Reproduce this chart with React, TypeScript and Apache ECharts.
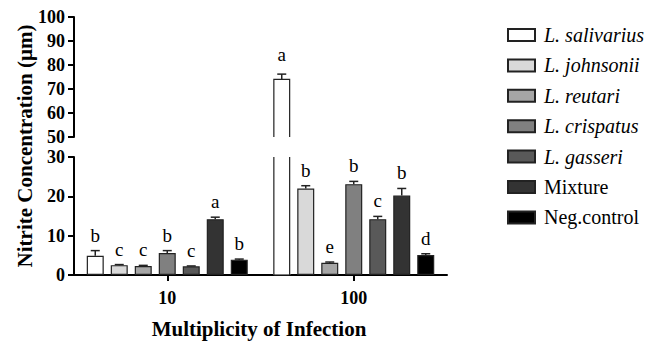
import React, { useEffect, useRef } from "react";
import * as echarts from "echarts";

const categories = ["10", "100"];
const seriesNames = ["L. salivarius", "L. johnsonii", "L. reutari", "L. crispatus", "L. gasseri", "Mixture", "Neg.control"];
const italicNames = ["L. salivarius", "L. johnsonii", "L. reutari", "L. crispatus", "L. gasseri"];
const colors = ["#ffffff", "#d9d9d9", "#a6a6a6", "#808080", "#595959", "#333333", "#000000"];

const means10 = [4.9, 2.5, 2.3, 5.6, 2.2, 14.2, 3.9];
const err10 = [1.3, 0.15, 0.15, 0.6, 0.1, 0.5, 0.15];
const letters10 = ["b", "c", "c", "b", "c", "a", "b"];

const means100 = [74.0, 22.0, 3.1, 23.1, 14.2, 20.2, 5.1];
const err100 = [2.2, 0.7, 0.2, 0.7, 0.7, 1.8, 0.3];
const letters100 = ["a", "b", "e", "b", "c", "b", "d"];

const lowerTicks = [0, 30, 10];
const upperTicks = [50, 100, 10];

const FONT = "Liberation Serif";
const BAR_W = 17;
const BAR_STEP = 24;
const EDGE = "#222";

export default function App() {
  const ref = useRef<HTMLDivElement>(null);
  useEffect(() => {
    if (!ref.current) return;
    const chart = echarts.init(ref.current, undefined, { renderer: "svg" });
    const meansByCat = [means10, means100];
    const errByCat = [err10, err100];
    const lettersByCat = [letters10, letters100];
    const n = seriesNames.length;

    const barX = (center: number, s: number) => center - ((n - 1) * BAR_STEP) / 2 + s * BAR_STEP;

    const pick = (test: (v: number) => boolean) => {
      const out: any[] = [];
      for (let c = 0; c < categories.length; c++) {
        for (let s = 0; s < n; s++) {
          const v = meansByCat[c][s];
          if (test(v)) out.push([c, v, errByCat[c][s], s]);
        }
      }
      return out;
    };

    const renderErr = (gap: number) => (params: any, api: any) => {
      const c = api.value(0);
      const v = api.value(1);
      const e = api.value(2);
      const s = api.value(3);
      const letter = lettersByCat[c][s];
      const base = api.coord([c, v]);
      const top = api.coord([c, v + e]);
      const x = barX(base[0], s);
      const half = 4.5;
      return {
        type: "group",
        children: [
          { type: "line", shape: { x1: x, y1: base[1], x2: x, y2: top[1] }, style: { stroke: EDGE, lineWidth: 1.5 } },
          { type: "line", shape: { x1: x - half, y1: top[1], x2: x + half, y2: top[1] }, style: { stroke: EDGE, lineWidth: 1.5 } },
          {
            type: "text",
            style: {
              text: letter,
              x: x,
              y: top[1] - gap,
              align: "center",
              verticalAlign: "bottom",
              fontFamily: FONT,
              fontSize: 19,
              fill: "#000",
            },
          },
        ],
      };
    };

    // outline of a bar that crosses the axis break: open side at the break
    const renderOutline = (lo: number, hi: number, upper: boolean) => (params: any, api: any) => {
      const c = api.value(0);
      const v = api.value(1);
      const s = api.value(3);
      const b = api.coord([c, lo]);
      const t = api.coord([c, Math.min(v, hi)]);
      const x = barX(b[0], s);
      const xl = x - BAR_W / 2 + 0.6;
      const xr = x + BAR_W / 2 - 0.6;
      const style = { stroke: EDGE, lineWidth: 1.2, fill: null };
      if (upper) {
        return {
          type: "polyline",
          shape: { points: [[xl, b[1]], [xl, t[1]], [xr, t[1]], [xr, b[1]]] },
          style,
        };
      }
      return {
        type: "group",
        children: [
          { type: "line", shape: { x1: xl, y1: b[1], x2: xl, y2: t[1] }, style },
          { type: "line", shape: { x1: xr, y1: b[1], x2: xr, y2: t[1] }, style },
          { type: "line", shape: { x1: xl, y1: b[1], x2: xr, y2: b[1] }, style },
        ],
      };
    };

    const barSeries = (gridIdx: number, lo: number, hi: number) =>
      seriesNames.map((name, s) => ({
        name,
        type: "bar",
        xAxisIndex: gridIdx,
        yAxisIndex: gridIdx,
        barWidth: BAR_W,
        barGap: ((BAR_STEP - BAR_W) / BAR_W) * 100 + "%",
        data: categories.map((_, c) => {
          const v = meansByCat[c][s];
          if (v < lo) return "-";
          const crosses = gridIdx === 0 || v > hi;
          return crosses ? { value: v, itemStyle: { borderWidth: 0 } } : v;
        }),
        itemStyle: { color: colors[s], borderColor: EDGE, borderWidth: 1.2 },
        clip: true,
      }));

    const yAxisCommon = {
      type: "value",
      splitLine: { show: false },
      axisLine: { show: true, lineStyle: { color: "#000", width: 2 } },
      axisTick: { show: true, length: 6, lineStyle: { color: "#000", width: 2 } },
      axisLabel: { color: "#000", fontFamily: FONT, fontWeight: "bold", fontSize: 18, margin: 9 },
    };

    chart.setOption({
      animation: false,
      grid: [
        { left: 74, top: 17, width: 373, height: 120 },
        { left: 74, top: 157, width: 373, height: 118 },
      ],
      xAxis: [
        { type: "category", gridIndex: 0, data: categories, show: false },
        {
          type: "category",
          gridIndex: 1,
          data: categories,
          axisLine: { show: true, lineStyle: { color: "#000", width: 2 } },
          axisTick: { show: true, alignWithLabel: true, length: 6, lineStyle: { color: "#000", width: 2 } },
          axisLabel: { color: "#000", fontFamily: FONT, fontWeight: "bold", fontSize: 18, margin: 14 },
        },
      ],
      yAxis: [
        { ...yAxisCommon, gridIndex: 0, min: upperTicks[0], max: upperTicks[1], interval: upperTicks[2] },
        { ...yAxisCommon, gridIndex: 1, min: lowerTicks[0], max: lowerTicks[1], interval: lowerTicks[2] },
      ],
      legend: {
        data: seriesNames.map((name) => ({
          name,
          textStyle: { fontStyle: italicNames.includes(name) ? "italic" : "normal" },
        })),
        orient: "vertical",
        left: 502,
        top: 20,
        itemWidth: 27,
        itemHeight: 12,
        itemGap: 10.4,
        icon: "rect",
        textStyle: {
          color: "#000",
          fontFamily: FONT,
          fontSize: 20,
          lineHeight: 20,
          padding: [0, 0, 0, 4],
        },
      },
      graphic: [
        {
          type: "text",
          x: 25,
          y: 146,
          rotation: Math.PI / 2,
          style: {
            text: "Nitrite Concentration (μm)",
            align: "center",
            verticalAlign: "middle",
            fontFamily: FONT,
            fontWeight: "bold",
            fontSize: 21,
            fill: "#000",
          },
        },
        {
          type: "text",
          x: 259,
          y: 329,
          style: {
            text: "Multiplicity of Infection",
            align: "center",
            verticalAlign: "middle",
            fontFamily: FONT,
            fontWeight: "bold",
            fontSize: 21,
            fill: "#000",
          },
        },
      ],
      series: [
        ...barSeries(0, upperTicks[0], upperTicks[1]),
        ...barSeries(1, lowerTicks[0], lowerTicks[1]),
        {
          type: "custom",
          name: "outlineUpper",
          xAxisIndex: 0,
          yAxisIndex: 0,
          data: pick((v) => v >= upperTicks[0]),
          renderItem: renderOutline(upperTicks[0], upperTicks[1], true),
          z: 4,
        },
        {
          type: "custom",
          name: "outlineLower",
          xAxisIndex: 1,
          yAxisIndex: 1,
          data: pick((v) => v > lowerTicks[1]),
          renderItem: renderOutline(lowerTicks[0], lowerTicks[1], false),
          z: 4,
        },
        {
          type: "custom",
          name: "errUpper",
          xAxisIndex: 0,
          yAxisIndex: 0,
          data: pick((v) => v >= upperTicks[0] && v <= upperTicks[1]),
          renderItem: renderErr(10),
          z: 5,
        },
        {
          type: "custom",
          name: "errLower",
          xAxisIndex: 1,
          yAxisIndex: 1,
          data: pick((v) => v >= lowerTicks[0] && v <= lowerTicks[1]),
          renderItem: renderErr(6),
          z: 5,
        },
      ],
    });
    return () => chart.dispose();
  }, []);
  return <div ref={ref} style={{ width: 652, height: 342, position: "absolute", left: 0, top: 0 }} />;
}
